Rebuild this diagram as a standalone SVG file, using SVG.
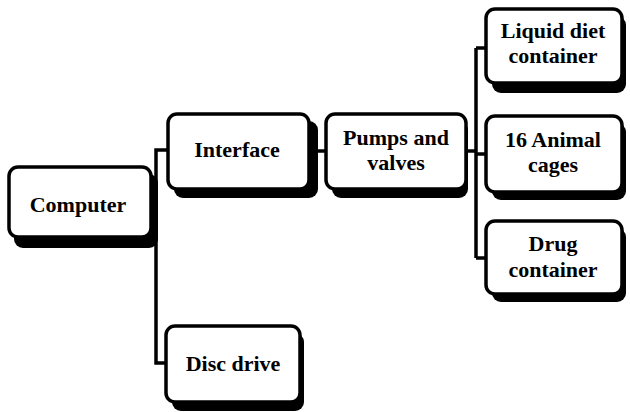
<svg xmlns="http://www.w3.org/2000/svg" width="630" height="412" viewBox="0 0 630 412">
<style>
.sh{fill:#000}
.bx{fill:#fff;stroke:#000;stroke-width:3.5}
.t{font-family:"Liberation Serif","Times New Roman",serif;font-weight:bold;font-size:22px;fill:#000;text-anchor:middle}
.c{fill:none;stroke:#000;stroke-width:3.5}
</style>
<rect width="630" height="412" fill="#fff"/>
<g id="connectors">
<path class="c" d="M156,222 V150 H168"/>
<path class="c" d="M156,222 V363 H166"/>
<path class="c" d="M316,151 H326"/>
<path class="c" d="M468,151 H476"/>
<path class="c" d="M476,48 V258"/>
<path class="c" d="M476,48 H486"/>
<path class="c" d="M476,154 H486"/>
<path class="c" d="M476,258 H486"/>
</g>
<g id="computer">
<rect class="sh" x="14" y="174" width="144" height="74" rx="9"/>
<rect class="bx" x="9" y="167" width="142" height="70" rx="9"/>
<text class="t" x="78" y="212">Computer</text>
</g>
<g id="interface">
<rect class="sh" x="174" y="121" width="144" height="77" rx="9"/>
<rect class="bx" x="168" y="114" width="141" height="75" rx="9"/>
<text class="t" x="237" y="157">Interface</text>
</g>
<g id="pumps">
<rect class="sh" x="332" y="121" width="136" height="77" rx="9"/>
<rect class="bx" x="326" y="114" width="140" height="75" rx="9"/>
<text class="t" x="396" y="145">Pumps and</text>
<text class="t" x="396" y="170">valves</text>
</g>
<g id="liquid">
<rect class="sh" x="492" y="16" width="134" height="77" rx="9"/>
<rect class="bx" x="486" y="9" width="136" height="74" rx="9"/>
<text class="t" x="553" y="38">Liquid diet</text>
<text class="t" x="553" y="63">container</text>
</g>
<g id="cages">
<rect class="sh" x="492" y="123" width="134" height="77" rx="9"/>
<rect class="bx" x="486" y="116" width="136" height="76" rx="9"/>
<text class="t" x="553" y="147">16 Animal</text>
<text class="t" x="553" y="172">cages</text>
</g>
<g id="drug">
<rect class="sh" x="492" y="228" width="134" height="74" rx="9"/>
<rect class="bx" x="486" y="221" width="136" height="73" rx="9"/>
<text class="t" x="553" y="251">Drug</text>
<text class="t" x="553" y="277">container</text>
</g>
<g id="disc">
<rect class="sh" x="172" y="333" width="132" height="78" rx="9"/>
<rect class="bx" x="166" y="326" width="134" height="76" rx="9"/>
<text class="t" x="233" y="371">Disc drive</text>
</g>
</svg>
